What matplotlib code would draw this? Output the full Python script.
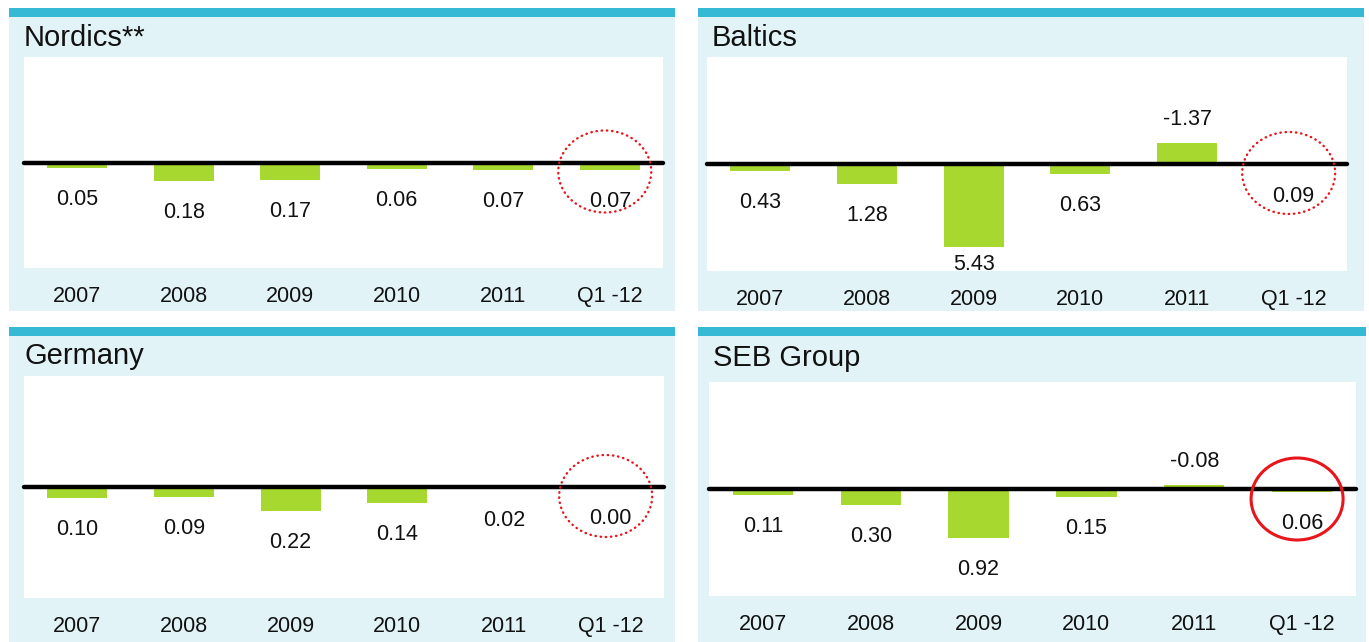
import matplotlib
matplotlib.use("Agg")
import matplotlib.pyplot as plt
from matplotlib.patches import Rectangle, Ellipse
from matplotlib.transforms import ScaledTranslation

plt.rcParams['font.family'] = ['Liberation Sans', 'DejaVu Sans']

# data
categories = ["2007", "2008", "2009", "2010", "2011", "Q1 -12"]
nordics = [0.05, 0.18, 0.17, 0.06, 0.07, 0.07]
baltics = [0.43, 1.28, 5.43, 0.63, -1.37, 0.09]
germany = [0.10, 0.09, 0.22, 0.14, 0.02, 0.00]
seb_group = [0.11, 0.30, 0.92, 0.15, -0.08, 0.06]
titles = ["Nordics**", "Baltics", "Germany", "SEB Group"]

# colours
CYAN = "#36b9d5"
PANEL = "#e2f3f8"
GREEN = "#a6d830"
RED = "#e8161b"
INK = "#111111"

W, H = 1369, 642
fig = plt.figure(figsize=(W / 100, H / 100), dpi=100)
fig.patch.set_facecolor("white")


def fx(px):
    return px / W


def fy(py):
    return 1 - py / H


# layout in pixels: panel box, white plot box, title position, y-limit, circle style
panels = [
    dict(box=(9, 8, 675, 311), plot=(24, 57, 663, 268), title=(24, 38), lim=1.0, solid=False),
    dict(box=(698, 8, 1364, 311), plot=(707, 57, 1347, 271), title=(712, 38), lim=7.0, solid=False),
    dict(box=(9, 327, 675, 642), plot=(24, 376, 664, 598), title=(24, 356), lim=1.0, solid=False),
    dict(box=(698, 327, 1366, 642), plot=(709, 382, 1356, 596), title=(713, 358), lim=2.0, solid=True),
]
series = [nordics, baltics, germany, seb_group]

for p, vals, title in zip(panels, series, titles):
    l, t, r, b = p["box"]
    fig.add_artist(Rectangle((fx(l), fy(b)), (r - l) / W, (b - t) / H,
                             transform=fig.transFigure, facecolor=PANEL,
                             edgecolor="none", zorder=0))
    fig.add_artist(Rectangle((fx(l), fy(t + 9)), (r - l) / W, 9 / H,
                             transform=fig.transFigure, facecolor=CYAN,
                             edgecolor="none", zorder=1))
    fig.text(fx(p["title"][0]), fy(p["title"][1]), title, fontsize=21,
             color=INK, va="center", ha="left")

    pl, pt, pr, pb = p["plot"]
    ax = fig.add_axes([fx(pl), fy(pb), (pr - pl) / W, (pb - pt) / H])
    ax.set_facecolor("white")
    x = range(len(categories))
    ax.bar(x, vals, width=0.56, color=GREEN, zorder=2)
    ax.axhline(0, color="black", lw=3.2, zorder=3, solid_capstyle="round",
               clip_on=False)
    ax.set_xlim(-0.5, len(categories) - 0.5)
    ax.set_ylim(p["lim"], -p["lim"])
    for s in ax.spines.values():
        s.set_visible(False)
    ax.set_yticks([])
    ax.set_xticks(list(x), categories)
    ax.tick_params(axis="x", length=0, pad=13, labelsize=15.5, labelcolor=INK)

    bottom_px = ax.transAxes.transform((0, 0))[1]
    for i, v in enumerate(vals):
        end_px = ax.transData.transform((i, v))[1]
        if v >= 0:
            off = min(21, end_px - bottom_px - 17)
            ax.annotate(f"{v:.2f}", (i, v), xytext=(0, -off * 0.72),
                        textcoords="offset points", ha="center", va="top",
                        fontsize=15.5, color=INK, zorder=4)
        else:
            ax.annotate(f"{v:.2f}", (i, v), xytext=(0, 18 * 0.72),
                        textcoords="offset points", ha="center",
                        va="baseline", fontsize=15.5, color=INK, zorder=4)

    # highlight ring around the latest quarter
    trans = fig.dpi_scale_trans + ScaledTranslation(len(categories) - 1, 0, ax.transData)
    if p["solid"]:
        ring = Ellipse((-0.05, -0.10), 0.92, 0.82, transform=trans, fill=False,
                       edgecolor=RED, lw=2.2, zorder=5)
    else:
        ring = Ellipse((-0.05, -0.09), 0.93, 0.82, transform=trans, fill=False,
                       edgecolor=RED, lw=1.7, linestyle=(0, (0.2, 2.0)),
                       zorder=5)
        ring.set_capstyle("round")
    fig.add_artist(ring)

fig.savefig("out.png", dpi=100)
